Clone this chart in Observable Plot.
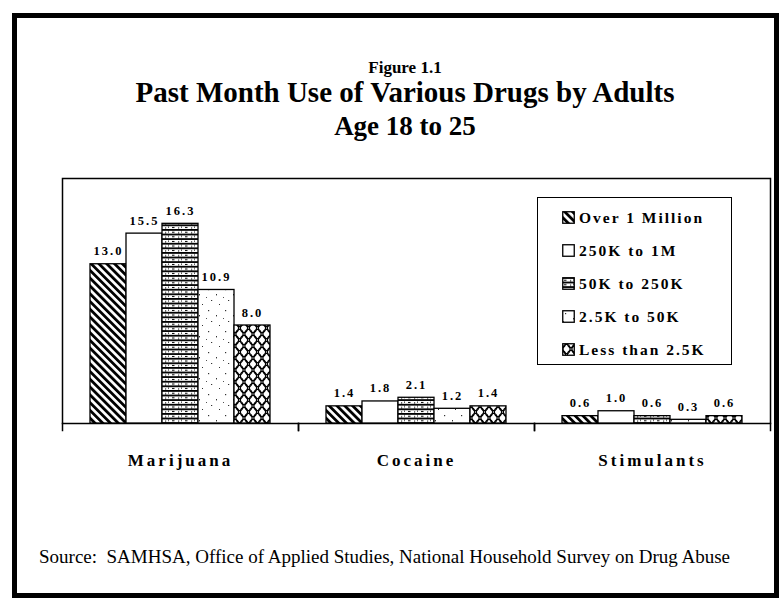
<!DOCTYPE html>
<html>
<head>
<meta charset="utf-8">
<script src="https://cdn.jsdelivr.net/npm/d3@7"></script>
<script src="https://cdn.jsdelivr.net/npm/@observablehq/plot@0.6"></script>
<style>
  html, body { margin: 0; padding: 0; background: #fff; }
  #page { position: relative; width: 779px; height: 604px; overflow: hidden; background: #fff; font-family: "Liberation Serif", "Times New Roman", serif; color: #000; }
  #border { position: absolute; left: 12px; top: 13px; width: 767px; height: 585px; border: 5px solid #000; box-sizing: border-box; }
  .ttl { position: absolute; left: 0; width: 810px; text-align: center; font-weight: bold; line-height: 1; white-space: nowrap; }
  #fig { top: 59px; font-size: 17px; }
  #t1 { top: 78px; font-size: 29px; }
  #t2 { top: 113px; font-size: 27px; }
  #chart { position: absolute; left: 0; top: 160px; }
  #chart svg { font-family: "Liberation Serif", "Times New Roman", serif; }
  #chart text.vlabel { font-size: 12.5px; font-weight: bold; letter-spacing: 2px; }
  #chart g[aria-label="fx-axis tick label"] text { font-size: 17px; font-weight: bold; letter-spacing: 3px; }
  #legend { position: absolute; left: 537px; top: 197px; width: 195px; height: 168px; border: 1.5px solid #000; box-sizing: border-box; padding: 3px 0 0 24px; background: #fff; }
  .lrow { height: 33px; display: flex; align-items: center; font-size: 15.5px; font-weight: bold; letter-spacing: 2px; white-space: nowrap; }
  .lrow svg { margin-right: 4px; flex: none; }
  #source { position: absolute; left: 39px; top: 547px; font-size: 19px; line-height: 1; white-space: nowrap; }
</style>
</head>
<body>
<svg width="0" height="0" style="position:absolute">
  <defs>
    <pattern id="p0" patternUnits="userSpaceOnUse" width="5.5" height="5.5" patternTransform="rotate(-45)">
      <rect width="5.5" height="5.5" fill="#fff"/>
      <rect width="2.8" height="5.5" fill="#000"/>
    </pattern>
    <pattern id="p1" patternUnits="userSpaceOnUse" width="4" height="4">
      <rect width="4" height="4" fill="#fff"/>
    </pattern>
    <pattern id="p2" patternUnits="userSpaceOnUse" width="13" height="4.6">
      <rect width="13" height="4.6" fill="#fff"/>
      <rect y="0" width="13" height="1.8" fill="#000"/>
      <rect x="2" y="2.7" width="2.5" height="1" fill="#000"/>
      <rect x="8" y="3.1" width="1.2" height="1" fill="#000"/>
      <rect x="11" y="2.4" width="1" height="1" fill="#000"/>
    </pattern>
    <pattern id="p3" patternUnits="userSpaceOnUse" width="17" height="21">
      <rect width="17" height="21" fill="#fff"/>
      <rect x="3" y="3" width="1.2" height="1.2" fill="#333"/>
      <rect x="11" y="8" width="1" height="1.4" fill="#333"/>
      <rect x="6" y="14" width="1.2" height="1" fill="#333"/>
      <rect x="14" y="18" width="1" height="1" fill="#333"/>
      <rect x="1" y="11" width="1" height="1" fill="#555"/>
    </pattern>
    <pattern id="p4" patternUnits="userSpaceOnUse" width="9" height="12">
      <rect width="9" height="12" fill="#fff"/>
      <ellipse cx="4.5" cy="6" rx="3.6" ry="4.6" fill="none" stroke="#000" stroke-width="1.3"/>
      <ellipse cx="0" cy="0" rx="3.6" ry="4.6" fill="none" stroke="#000" stroke-width="1.3"/>
      <ellipse cx="9" cy="0" rx="3.6" ry="4.6" fill="none" stroke="#000" stroke-width="1.3"/>
      <ellipse cx="0" cy="12" rx="3.6" ry="4.6" fill="none" stroke="#000" stroke-width="1.3"/>
      <ellipse cx="9" cy="12" rx="3.6" ry="4.6" fill="none" stroke="#000" stroke-width="1.3"/>
    </pattern>
  </defs>
</svg>
<div id="page">
  <div id="border"></div>
  <div id="fig" class="ttl">Figure 1.1</div>
  <div id="t1" class="ttl">Past Month Use of Various Drugs by Adults</div>
  <div id="t2" class="ttl">Age 18 to 25</div>
  <div id="chart"></div>
  <div id="legend"></div>
  <div id="source">Source:&nbsp; SAMHSA, Office of Applied Studies, National Household Survey on Drug Abuse</div>
</div>
<script>
// ---- data ----
const drugs = ["Marijuana", "Cocaine", "Stimulants"];
const groups = ["Over 1 Million", "250K to 1M", "50K to 250K", "2.5K to 50K", "Less than 2.5K"];
const marijuana = [13.0, 15.5, 16.3, 10.9, 8.0];
const cocaine = [1.4, 1.8, 2.1, 1.2, 1.4];
const stimulants = [0.6, 1.0, 0.6, 0.3, 0.6];
const yDomain = [0, 20];

// ---- build table ----
const seriesByDrug = [marijuana, cocaine, stimulants];
const rows = drugs.flatMap((drug, i) => groups.map((group, j) => ({drug, group, value: seriesByDrug[i][j]})));
const patternFills = groups.map((g, i) => `url(#p${i})`);

const W = 779, H = 320, MT = 18, MB = 57;
const chart = Plot.plot({
  width: W,
  height: H,
  marginTop: MT,
  marginBottom: MB,
  marginLeft: 61,
  marginRight: 8,
  fx: {domain: drugs, padding: 0},
  x: {domain: groups, paddingInner: 0, paddingOuter: 0.73, axis: null},
  y: {domain: yDomain, axis: null},
  color: {domain: groups, range: patternFills},
  marks: [
    Plot.frame({facet: "super", stroke: "#000", strokeWidth: 1.5}),
    Plot.frame({anchor: "left", stroke: "#000", strokeWidth: 1.5, insetTop: H - MT - MB, insetBottom: -7}),
    Plot.frame({anchor: "right", stroke: "#000", strokeWidth: 1.5, insetTop: H - MT - MB, insetBottom: -7}),
    Plot.barY(rows, {fx: "drug", x: "group", y: "value", fill: "group", stroke: "#000", strokeWidth: 1.3}),
    Plot.text(rows, {fx: "drug", x: "group", y: "value", text: d => d.value.toFixed(1), dy: -13, fill: "#000",
      fontSize: 12.5, fontWeight: "bold", fontFamily: "Liberation Serif"}),
    Plot.axisFx({anchor: "bottom", tickSize: 0, tickPadding: 30, label: null, fill: "#000"})
  ]
});
document.getElementById("chart").appendChild(chart);

// letter-spacing for value labels (not a Plot option)
const valueTexts = new Set(rows.map(d => d.value.toFixed(1)));
d3.select(chart).selectAll("text")
  .filter(function() { return valueTexts.has(this.textContent) && !this.closest('g[aria-label="fx-axis tick label"]'); })
  .classed("vlabel", true);

// ---- legend ----
const legend = d3.select("#legend");
groups.forEach((g, i) => {
  const row = legend.append("div").attr("class", "lrow");
  const s = row.append("svg").attr("width", 13).attr("height", 13);
  s.append("rect").attr("x", 0.75).attr("y", 0.75).attr("width", 11.5).attr("height", 11.5)
    .attr("fill", patternFills[i]).attr("stroke", "#000").attr("stroke-width", 1.3);
  row.append("span").text(g);
});
</script>
</body>
</html>
